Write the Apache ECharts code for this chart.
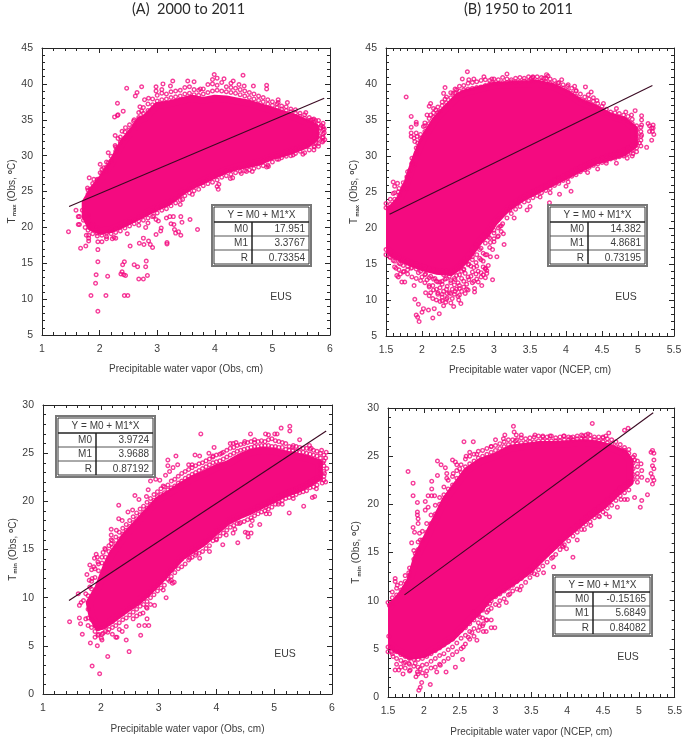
<!DOCTYPE html>
<html><head><meta charset="utf-8">
<script src="https://cdn.jsdelivr.net/npm/echarts@6/dist/echarts.min.js"></script>
<style>html,body{margin:0;padding:0;background:#fff}#c{width:685px;height:740px}</style></head>
<body><div id="c"></div>
<script>
// Saturated body of each cloud: outline as [x, y]
const bodyA=[[1.75,23.5],[1.9,25.5],[2.05,27],[2.2,28.8],[2.3,30.3],[2.4,31.8],[2.5,32.8],[2.6,33.8],[2.7,35],[2.8,35.3],[2.9,36.2],[3.0,37],[3.2,37.2],[3.4,37.6],[3.6,38],[3.8,37.7],[4.0,38],[4.2,37.9],[4.4,37.6],[4.6,37.3],[4.8,36.8],[5.0,36.3],[5.2,35.8],[5.4,35.3],[5.6,34.6],[5.75,34],[5.75,32.5],[5.6,31.5],[5.4,30.9],[5.2,30.3],[5.0,29.9],[4.8,29.2],[4.6,28.8],[4.4,28.5],[4.2,28],[4.0,27.3],[3.8,26.5],[3.6,25.8],[3.4,24.8],[3.2,23.5],[3.0,22.8],[2.8,22],[2.6,21.2],[2.4,20.4],[2.2,19.7],[2.0,19.5],[1.85,20],[1.75,21.5]];
const bodyB=[[1.5,22.2],[1.6,23],[1.7,24.2],[1.8,26.5],[1.9,29.5],[2.0,32],[2.1,33.7],[2.2,35.2],[2.3,36.3],[2.4,37.3],[2.5,38.3],[2.6,38.8],[2.8,39.3],[3.0,39.8],[3.2,39.9],[3.4,40],[3.6,40.1],[3.8,39.7],[4.0,38.8],[4.2,37.5],[4.4,36.7],[4.6,35.6],[4.8,35],[4.95,33.8],[4.95,31.5],[4.8,30.4],[4.6,29.8],[4.4,29.2],[4.2,28.2],[4.0,27.2],[3.8,26.2],[3.6,25.2],[3.4,24.2],[3.2,22.8],[3.1,21.8],[3.0,20.7],[2.9,19.2],[2.8,18.2],[2.7,16.8],[2.6,15.5],[2.5,14.5],[2.4,13.8],[2.2,14],[2.0,14.5],[1.8,15.3],[1.6,16.3],[1.5,17.2]];
const bodyC=[[1.95,11],[2.1,13.4],[2.2,14.6],[2.3,15.4],[2.4,16.3],[2.6,17.6],[2.8,18.9],[3.0,20.2],[3.2,20.9],[3.4,21.7],[3.6,22.4],[3.8,22.9],[4.0,23.5],[4.2,23.9],[4.4,24.6],[4.6,25.1],[4.8,25.3],[5.0,25.2],[5.2,24.9],[5.4,24.7],[5.6,24.4],[5.78,24],[5.78,22.5],[5.6,21.8],[5.4,21.2],[5.2,20.8],[5.0,20.2],[4.8,19.6],[4.6,19],[4.4,18.5],[4.2,17.9],[4.0,16.9],[3.8,15.8],[3.6,15],[3.4,14.2],[3.2,12.9],[3.0,11.6],[2.8,10.4],[2.6,9.4],[2.4,8.6],[2.2,7.7],[2.05,7.1],[1.95,6.9],[1.85,8],[1.8,9.5]];
const bodyD=[[1.5,9.2],[1.6,9.9],[1.7,10.8],[1.8,12],[1.9,14.5],[2.0,16],[2.1,17.5],[2.2,19],[2.3,20.5],[2.4,21.5],[2.5,22.5],[2.6,23.5],[2.8,24.5],[3.0,25],[3.2,25.8],[3.4,26],[3.6,26.2],[3.8,26.2],[4.0,26.3],[4.2,26.4],[4.4,26.3],[4.6,25.9],[4.8,25.3],[4.88,24.5],[4.88,22.3],[4.7,21.2],[4.5,19.8],[4.3,18.7],[4.1,17.5],[3.9,16.2],[3.7,14.8],[3.5,13.3],[3.3,12.2],[3.1,11.2],[2.9,10.2],[2.8,9.2],[2.6,7.7],[2.4,6.2],[2.2,5.2],[2.0,4.4],[1.8,4.2],[1.6,5],[1.5,5.7]];

// Individually readable circles around each body
const ptsA=[[1.46,19.4],[1.59,22.4],[1.63,21.5],[1.65,21.5],[1.63,20.4],[1.65,20.4],[1.67,17.1],[1.7,22.4],[1.76,17.4],[1.77,18.9],[1.81,18.9],[1.81,18.1],[1.81,18.5],[1.82,26.9],[1.85,10.5],[1.93,12.2],[1.94,13.4],[1.97,18],[1.97,16.9],[1.97,15.2],[1.97,8.3],[2.04,18],[2.11,10.5],[2.14,13.2],[2.12,18.4],[2.22,18.4],[2.25,18.6],[2.15,30.4],[2.31,37.3],[2.26,35.4],[2.31,35.6],[2.32,35.7],[2.41,36.2],[2.27,32.8],[2.27,31.4],[2.32,32.4],[2.47,39.4],[2.37,13.5],[2.4,14.8],[2.43,15.2],[2.39,13.8],[2.42,13.4],[2.45,13.3],[2.43,10.5],[2.49,10.5],[2.48,19.1],[2.53,17.4],[2.6,14.8],[2.66,14.5],[2.68,12.8],[2.76,12.8],[2.83,13.3],[2.8,14.5],[2.81,15.3],[2.69,17.8],[2.76,18.5],[2.77,17.6],[2.85,18.1],[2.88,17.6],[2.92,17.2],[2.98,19],[3.06,19.5],[3.07,19.9],[3.17,17.9],[3.17,17.7],[2.8,20],[2.94,21.6],[2.98,21.1],[3.02,20.9],[3.16,21.3],[3.22,21.5],[3.28,21.5],[3.24,20.5],[3.29,20.4],[3.3,19.7],[3.32,19.2],[3.37,19.4],[3.41,18.9],[3.41,21.5],[3.43,20.7],[3.57,21.1],[3.7,19.7],[3.4,23.2],[3.44,23.9],[3.61,24.6],[4.06,25.3],[4.07,26],[4.27,26.8],[4.31,26.9],[4.46,27.5],[4.55,27.8],[4.65,27.8],[4.9,28.4],[4.93,28.5],[5.11,29.5],[5.36,30.1],[5.53,30.2],[5.72,30.8],[3.99,41.3],[4.49,41.2],[4.04,40.8],[4.16,40.7],[4.32,40.4],[4.42,39.9],[4.51,39.7],[4.67,39.7],[4.9,39.8],[4.9,39.3],[3.27,40.4],[3.1,40],[2.98,39.6],[2.98,39],[2.73,39.6],[2.65,38.8],[2.62,38.3],[2.78,37.8],[2.85,38],[3.23,39.7],[3.53,40.4],[3.64,40.3],[3.75,39.3],[5.26,37.4],[5.1,37.8],[5.1,37.4],[5.88,34.5],[5.84,33.9],[5.9,33.2],[5.87,32.5],[5.91,32.2],[5.87,31.9],[5.76,31.8],[5.8,31.3],[5.73,31.2],[5.9,33.7],[5.85,34.2],[5.7,35],[5.75,34.9],[5.67,35],[5.58,36],[2.01,28.8],[2.12,29.1],[2.15,29],[2.07,28.3],[2.01,27.6],[1.9,26.7],[1.96,26.7],[1.79,25.5],[1.84,25.3],[2.3,31],[2.39,33.4],[2.45,33.9],[2.59,34.8],[2.7,36.8],[2.73,36.2],[1.72,21],[1.75,20],[1.74,23]];
const ptsB=[[1.78,38.2],[1.85,35.5],[1.85,34],[1.85,33.2],[1.85,32.7],[1.92,34.7],[1.92,34.4],[1.92,33.2],[1.93,32.7],[1.89,32.5],[1.9,32],[1.94,31.8],[1.92,30.2],[1.86,29],[1.89,28.8],[1.83,28],[1.79,27.1],[1.6,26.4],[1.66,26.2],[1.62,25.8],[1.67,25],[1.6,24.8],[1.74,25.7],[1.79,25.5],[1.53,22.7],[1.58,22.9],[2.1,36.9],[2.12,37.3],[2.16,36.6],[2.07,35.7],[2.12,35.7],[2.04,34.6],[2.02,34.1],[2.19,36.4],[2.25,36.2],[2.3,38.7],[2.32,39.5],[2.32,37.9],[2.43,38.7],[2.48,39.2],[2.56,40.7],[2.63,41.7],[2.65,40.6],[2.72,40.7],[2.86,41],[2.97,40.7],[3.18,41.4],[3.52,40.8],[3.54,41],[3.73,41.3],[3.75,41.1],[3.69,40.8],[3.94,40.6],[3.89,40.1],[4.03,39.9],[4.12,39.7],[4.14,39.1],[4.27,39.6],[4.35,38.9],[4.31,38.5],[4.38,38.1],[4.43,37.7],[4.52,37.3],[4.7,36.6],[4.96,36.3],[4.83,36.1],[4.91,35.7],[5.05,35.6],[5.05,35],[5.05,34.3],[5.14,34.5],[5.16,34.2],[5.21,34.3],[5.21,33.9],[5.2,33.4],[5.22,33],[5.19,32.2],[5.12,31.2],[5.16,33.4],[5.19,33.9],[5.05,32.9],[5.02,31.8],[4.98,30.6],[4.93,30.3],[4.85,29.7],[4.7,29],[4.56,29],[4.44,28.2],[4.3,27.7],[4.07,25.1],[3.91,24.7],[3.77,23.5],[3.78,24.9],[4.0,25.8],[4.03,26.4],[3.64,24.3],[3.5,23],[3.46,22.5],[3.28,21.4],[3.22,22.5],[3.14,17.7],[3.13,19.2],[3.08,20.2],[3.04,16],[2.98,12.8],[2.9,14.1],[2.92,14.8],[2.85,14.6],[2.83,12],[2.73,11.1],[2.73,11.6],[2.6,10.9],[2.54,9.5],[2.44,9.1],[2.51,10],[2.24,8.1],[2.15,7.5],[2.17,8.8],[2.09,8.6],[2.0,8.3],[1.96,7],[1.94,7.6],[1.92,7.9],[2.02,8.8],[1.9,10.1],[1.95,9.4],[1.89,12],[1.76,12.5],[1.72,12.5],[1.67,13.2],[1.65,13.4],[1.64,14.4],[2.1,10.6],[2.12,11],[2.15,10.2],[2.2,10],[2.22,10.8],[2.25,9.8],[2.28,10.4],[2.3,9.2],[2.33,9.7],[2.35,10.3],[2.38,11],[2.42,10.2],[2.45,10.8],[2.48,11.5],[2.5,10.5],[2.55,11.2],[2.58,11.8],[2.62,12.2],[2.65,12.8],[2.68,13.3],[2.72,12.6],[2.75,13.6],[2.78,14],[2.82,13.2],[2.85,13.5],[2.88,13.1],[2.9,13.7],[2.6,13.7],[2.55,13],[2.5,12.4],[2.45,12.1],[2.4,12.7],[2.35,11.9],[2.3,11.2],[2.25,11.7],[2.2,11.5],[2.15,12],[2.1,12],[2.05,11],[2.07,12.8],[2.18,13],[2.28,12.6],[2.38,13.3],[2.48,13.4],[2.58,14.3],[2.68,14.7],[2.75,15.2],[2.85,15.4],[2.9,16.3],[2.95,16],[2.98,17],[2.95,18],[3.0,18.5],[3.05,18.8],[2.85,16.5],[2.8,17],[2.75,17.5],[2.7,16],[3.1,19.5],[3.1,20.3],[3.0,19.7],[2.92,18.8],[2.0,13.2],[1.95,13.8],[1.85,14.4],[1.8,14.2],[2.05,13.6],[2.2,12.6],[2.32,12.9],[2.42,11.5],[2.52,11.6],[2.62,11.5],[2.35,10.9],[2.25,12.5],[2.12,13.3],[2.3,13.5],[2.45,13],[2.55,14],[2.65,15],[2.72,14.5],[2.8,15.8],[2.78,12.5],[2.88,14.4],[1.55,16],[1.6,15.5],[1.7,15],[1.75,14],[1.7,13.6]];
const ptsC=[[1.46,7.5],[1.61,10.4],[1.63,9.2],[1.66,9.5],[1.7,9.7],[1.63,7.9],[1.65,7.3],[1.68,6.2],[1.74,7.8],[1.78,7.1],[1.82,5.3],[1.85,2.9],[1.94,5],[1.98,2.1],[2.12,3.9],[2.26,5.9],[2.28,5.9],[2.37,6.5],[2.44,5.6],[2.49,4.4],[2.66,7.1],[2.69,6.1],[2.76,7.1],[2.83,7.1],[2.8,7.8],[2.73,8.4],[2.79,9],[2.93,9.2],[3.13,10],[3.08,10.8],[3.19,11.7],[3.24,11.5],[3.27,11.6],[3.22,11.8],[1.95,6.1],[2.01,5.8],[2.04,6.3],[2.12,6.4],[1.76,12.4],[1.81,13.4],[1.84,12.9],[1.88,13.2],[1.92,14.5],[1.94,14.2],[1.89,14.1],[1.95,13.7],[1.8,11.8],[1.85,12],[1.74,10.4],[1.81,11.1],[2.07,15.1],[2.04,14.7],[2.18,17.1],[2.18,16.5],[2.18,16],[2.18,15.6],[2.27,17],[2.31,19.6],[2.31,18.2],[2.37,18],[2.47,18.9],[2.55,19.1],[2.59,20.6],[2.66,20.2],[2.79,20.5],[2.82,21.2],[2.86,22.1],[2.95,22.3],[3.02,22.2],[3.08,21.6],[3.12,22.7],[3.16,24.3],[3.16,23.7],[3.19,23.1],[3.3,24.7],[3.25,23.5],[3.33,23.8],[3.52,23.8],[3.58,23.8],[3.63,24.8],[3.71,24.7],[3.73,27],[3.87,25],[3.96,25.6],[3.94,24.6],[4.09,25],[4.24,26],[4.29,26],[4.34,26.1],[4.49,26.2],[4.59,27],[4.66,26.4],[4.85,27],[4.9,26.9],[5.01,27],[5.05,27],[5.12,27.6],[5.27,27.8],[5.27,27.3],[5.44,26.4],[5.33,25.8],[5.61,25.8],[5.64,25.5],[5.82,25.3],[5.9,25.1],[5.89,24.5],[5.84,24],[5.91,23.4],[5.87,22.9],[5.89,22],[5.83,21.9],[5.73,21.3],[5.7,20.5],[5.66,20.4],[5.51,19.5],[5.26,18.8],[5.14,19.7],[5.07,19.7],[5.33,20.3],[4.75,17.6],[4.86,18.7],[4.92,18.7],[4.86,19.4],[4.54,16.7],[4.6,16.7],[4.5,16.8],[4.55,16.3],[4.37,15.7],[4.11,15.5],[4.29,16.7],[4.32,17.1],[3.88,14.8],[3.71,14.1],[3.54,14.1],[3.65,14.6],[4,16],[4.17,16.5],[4.4,17.7],[4.6,17.5],[4.62,18]];
const ptsD=[[1.78,23.4],[1.85,22.2],[1.85,20.9],[1.91,20.2],[1.91,19.2],[1.91,18.9],[1.92,18.5],[1.92,18],[1.85,17.6],[1.87,17.1],[1.94,17],[1.83,16],[1.95,16.3],[1.88,14.9],[1.79,12.9],[1.6,12.3],[1.6,12],[1.63,11.6],[1.76,11.8],[1.73,11.4],[1.56,9.7],[1.52,9.5],[2.19,23],[2.19,24.5],[2.11,22.4],[2.11,21.6],[2.06,20.9],[2.11,20.9],[2.15,20.9],[2.02,20.3],[2.06,19.7],[2.02,19.4],[2.24,24.1],[2.3,23.8],[2.32,23.2],[2.32,22.7],[2.4,24.6],[2.44,24.4],[2.46,24.1],[2.41,23.2],[2.56,26.5],[2.69,26.5],[2.64,25.4],[2.59,25],[2.74,25.2],[2.5,23.7],[2.94,26],[3.0,26.7],[3.13,27.2],[3.11,26.8],[3.25,28.1],[3.26,27.5],[3.29,27.2],[3.36,27.2],[3.28,26.6],[3.55,27.2],[3.66,27.1],[3.76,27.1],[3.95,27.1],[4.05,26.9],[4.22,27.1],[4.29,27.3],[4.24,26.8],[4.35,28.4],[4.5,27],[4.58,27.4],[4.54,27.1],[4.8,27.7],[4.85,27.9],[4.94,25.1],[4.94,24.6],[5.03,24.2],[5.04,23.5],[5.04,22.8],[4.98,22.3],[5.12,22.5],[5.17,25.4],[5.19,25.6],[5.21,25.3],[5.21,24.6],[5.19,24],[5.21,23.7],[5.17,23.2],[5.19,22.8],[5.21,22.5],[5.19,22.1],[5.12,21],[5.04,20.4],[5.02,19.7],[4.94,20.7],[4.84,20.5],[4.8,20.5],[4.75,20.5],[4.7,19.7],[4.59,18.7],[4.54,19],[4.45,18.7],[4.33,17.8],[4.24,17.4],[4.14,16.3],[4.08,14.5],[3.99,15.4],[3.94,15.6],[3.93,15.7],[3.8,14.5],[3.81,13.5],[3.67,12.9],[3.58,12.7],[3.5,12.9],[3.34,11.1],[3.2,10.7],[3.15,9.8],[3.05,9.5],[2.92,9.7],[2.99,7.2],[2.94,7.2],[2.94,8],[2.87,6.8],[2.83,6.8],[2.78,7.3],[2.74,5.9],[2.83,7.6],[2.87,8],[2.78,8.3],[2.69,8.8],[2.9,9],[2.67,6.7],[2.62,6.2],[2.55,5.2],[2.54,3.9],[2.44,3.1],[2.31,2.6],[2.18,2.6],[2.23,3.3],[2.09,1.3],[2.03,2.2],[1.97,1.5],[1.95,1],[1.93,0.7],[1.91,2.6],[1.89,2.1],[1.95,2.9],[1.88,3.5],[1.81,2.8],[1.71,2.4],[1.65,2.8],[1.6,2.8],[1.79,3.5],[1.72,3.5],[1.57,4.2],[1.55,4.7],[1.53,5.2],[1.51,6.3]];

// Fringe of circles along the body edges, as columns [x, y, y, ...]
const edgeA=[[1.8,24.6,25.2,21.7,20.6,19.6],[1.88,25.4,26.1,20.4,19.7,19.1],[1.96,26.6,25.9,19.9,19.2,18.8],[2.04,27.5,28.1,19.3,18.9],[2.12,28.4,27.9,19.2,18.7],[2.2,29.3,29.9,19.6,19.1],[2.28,30.6,31.2,19.8,19.3,18.5],[2.36,31.9,32.6,20.1,19.5],[2.44,32.5,33.3,20.4,19.9],[2.52,33.6,34.3,20.8,20.2],[2.6,34.2,35,21.1,20.5],[2.68,35.3,36,21.4,20.9,20.3],[2.76,35.9,36.7,21.7,21],[2.84,36.3,37.2,22,21.3,20.6],[2.92,37.1,37.9,22.3,21.5],[3.0,37.6,38.4,22.7,22],[3.08,37.8,38.7,39.2,23,22.4],[3.16,37.9,38.6,23.2,22.6],[3.24,38.1,38.9,23.7,23],[3.32,38.2,39,24,23.4],[3.4,38.3,39.1,24.4,23.8],[3.48,38.6,39.5,25,24.4],[3.56,38.7,39.6,25.4,24.8],[3.64,38.5,39.2,25.7,25.1],[3.72,38.4,39.1,26,25.3],[3.8,38.6,39.3,26.4,25.8],[3.88,38.8,39.9,26.7,26.1],[3.96,39,40,40.6,27.1,26.3],[4.04,39.1,39.8,27.3,26.6,25.7],[4.12,39,40.2,27.6,27],[4.2,38.9,39.6,27.9,27.2],[4.28,38.8,39.5,40.1,28,27.4],[4.36,38.7,39.4,28.2,27.6],[4.44,38.5,39.2,28.3,27.8],[4.52,38.3,39,28.4,27.9],[4.6,38.1,38.8,28.7,28],[4.68,37.9,38.6,28.8,28.2],[4.76,37.7,38.3,29,28.4],[4.84,37.5,38.1,29.2,28.6],[4.92,37.2,37.8,29.5,28.7],[5.0,37,37.5,29.8,29.1],[5.08,36.7,37.2,30,29.5],[5.16,36.5,36.9,30.2,29.7],[5.24,36.3,36.8,30.4,29.9],[5.32,36.1,36.5,30.6,30],[5.4,35.9,36.4,30.9,30.3],[5.48,35.5,35.9,31.1,30.6],[5.56,35.2,35.7,31.3,30.4],[5.64,34.9,35.3,31.6,30.8],[5.72,34.7,35.1,32,31.3],[5.8,34.4,34.9,33.4,32.8,32.3,31.7],[5.88,34,33.6,33,32.6,32.1]];
const edgeB=[[1.5,22.8,23.4,17,16.3],[1.56,23.3,24,16.6,15.9],[1.62,24,24.9,16.2,15.4,14.6],[1.68,24.6,25.5,15.9,15.1,14.2],[1.74,25.4,26.3,15.6,14.8,13.9],[1.8,27,27.8,15.4,14.7,13.6],[1.86,28.9,29.7,15.2,14.5,13.2],[1.92,30.4,31.1,15,14.3,13],[1.98,32.4,33,14.8,14,12.7],[2.04,33.4,34.2,14.6,13.5,12.4],[2.1,34.5,35.2,14.3,13.1,11.8],[2.16,35.4,36,14.2,12.9,11.4],[2.22,36,36.8,14.1,12.5,11],[2.28,37,37.5,14,12.2,10.8,9.9],[2.34,37.4,38.2,14,13,11.5,10.1],[2.4,38.1,38.8,13.9,12.4,10.9,9.6],[2.46,38.7,39.3,14.2,12.8,11.2],[2.52,39,39.7,14.7,13.5,12,10.7],[2.58,39.2,39.8,15.3,14.2,12.6],[2.64,39.3,40.1,15.9,14.9,13.2,11.4],[2.7,39.4,40.2,16.7,15.6,13.9,12.4],[2.76,39.5,40.3,17.6,16.3,14.7,12.9],[2.82,39.6,40.5,18.4,17.2,15.6,13.8],[2.88,39.8,40.6,19.1,17.9,16.3,14.3],[2.94,40,40.5,19.9,18.6,17.3],[3,40.1,40.7,20.6,19.3,18.1],[3.06,40.1,40.6,21.2,20,18.9],[3.12,40.2,40.9,21.9,20.6],[3.18,40.2,40.7,22.5,21.4],[3.24,40.3,40.6,23,22],[3.3,40.3,40.8,23.4,22.6],[3.36,40.3,40.9,23.9,23],[3.42,40.4,40.8,24.3,23.6],[3.48,40.4,41,24.6,23.8],[3.54,40.4,40.9,25,24.2],[3.6,40.5,41,25.3,24.5],[3.66,40.4,40.9,25.6,24.9],[3.72,40.3,40.8,25.9,25.2],[3.78,40.1,40.7,26.3,25.5],[3.84,39.9,40.5,26.7,25.9],[3.9,39.7,40.2,27,26.2],[3.96,39.4,39.9,27.2,26.6],[4.02,39.1,39.7,27.5,26.9],[4.08,38.7,39.4,27.9,27.2],[4.14,38.3,39,28.2,27.4],[4.2,37.9,38.6,28.5,27.8],[4.26,37.6,38.2,28.8,28.1],[4.32,37.4,37.9,29,28.4],[4.38,37,37.6,29.3,28.7],[4.44,36.7,37.3,29.5,28.9],[4.5,36.4,36.9,29.8,29.1],[4.56,35.9,36.5,30,29.3],[4.62,35.7,36.1,30.2,29.6],[4.68,35.5,36,30.4,29.7],[4.74,35.4,35.9,30.6,29.9],[4.8,35.2,35.7,30.8,30],[4.86,34.9,35.5,31.1,30.3],[4.92,34.5,35.1,31.5,30.8,30],[4.98,34.2,33.6,33,32.4,31.8,31.1],[5.04,34,33.4,32.7,32.2,31.4]];
const edgeC=[[1.78,10.2,8.8,7.9],[1.84,11.7,10.9,7.7,6.9],[1.9,12.1,13,7.1,6.5,5.9],[1.96,12.8,13.5,6.8,6.2],[2.02,13.6,14.2,6.9,6.2,5.6],[2.08,14.2,15,7,6.5],[2.14,14.8,15.4,7.3,6.7],[2.2,15.2,15.9,7.5,6.9,6.2],[2.26,15.6,16.3,7.8,7.1],[2.32,16.1,16.8,8.1,7.4,6.7],[2.38,16.6,17.2,8.3,7.7],[2.44,17,17.6,8.6,7.9,7],[2.5,17.4,18,8.9,8.2],[2.56,17.8,18.4,9.1,8.5,7.8],[2.62,18.2,18.8,9.4,8.8,8.1],[2.68,18.6,19.2,9.6,9.1,8.3],[2.74,18.9,19.5,9.9,9.3],[2.8,19.3,19.9,10.2,9.6,8.9],[2.86,19.7,20.3,10.6,10,9.3],[2.92,20.1,20.7,11,10.3],[2.98,20.5,21,11.3,10.7],[3.04,20.7,21.3,11.6,11],[3.1,20.9,21.5,12,11.3],[3.16,21.2,21.7,12.5,11.9],[3.22,21.4,22.1,12.9,12.2],[3.28,21.6,22.3,13.3,12.6],[3.34,21.9,22.6,13.7,13],[3.4,22.1,22.9,14,13.2],[3.46,22.4,23.1,14.3,13.5],[3.52,22.6,23.3,14.6,13.9],[3.58,22.8,23.5,14.9,14.2],[3.64,23,23.7,15.1,14.4],[3.7,23.2,23.9,15.3,14.6],[3.76,23.4,24,15.5,14.8],[3.82,23.6,24.2,15.9,15.1],[3.88,23.8,24.4,16.2,15.4],[3.94,24,24.7,16.6,15.9],[4,24.1,24.8,16.9,16.1],[4.06,24.2,24.9,17.2,16.4],[4.12,24.4,25.1,17.5,16.7],[4.18,24.6,25.3,17.8,17],[4.24,24.8,25.5,18,17.3],[4.3,25,25.6,18.1,17.5],[4.36,25.2,25.8,18.3,17.7],[4.42,25.3,25.9,18.5,17.8],[4.48,25.4,26,18.6,17.9],[4.54,25.5,26.1,18.8,18.1],[4.6,25.6,26.2,19,18.3],[4.66,25.7,26.1,19.2,18.5],[4.72,25.7,26.2,19.4,18.7],[4.78,25.8,26.3,19.6,18.9],[4.84,25.8,26.2,19.7,19],[4.9,25.8,26.4,19.9,19.2],[4.96,25.7,26.5,20.1,19.4],[5.02,25.7,26.3,20.3,19.7],[5.08,25.6,26.2,20.6,19.9],[5.14,25.6,26.1,20.7,20.1],[5.2,25.4,26,20.9,20.3],[5.26,25.3,25.7,21,20.4],[5.32,25.3,25.6,21.2,20.6],[5.38,25.2,25.7,21.3,20.7],[5.44,25.1,25.6,21.5,20.9],[5.5,25.1,25.5,21.6,21],[5.56,25,25.5,21.8,21.1],[5.62,24.9,25.4,22,21.4],[5.68,24.8,25.3,22.2,21.5],[5.74,24.7,25.2,22.4,21.7],[5.8,24.5,25,23.9,23.4,22.9,22.3],[5.86,24.8,24.2,23.7,23.1,22.6,22.2]];
const edgeD=[[1.5,9.8,5.2,4.7],[1.56,10.3,10.9,5.1,4.5],[1.62,10.6,11.3,4.7,4,3.4],[1.68,11.1,11.8,4.4,3.8,3.1],[1.74,12,12.6,4.2,3.6,3],[1.8,12.6,13.4,4,3.4,2.7],[1.86,14.3,15.2,3.9,3.2],[1.92,15.3,16.1,3.9,3.1,2.4],[1.98,16.3,17.2,4,3.3,2.5],[2.04,17.1,18,4.2,3.4,2.7],[2.1,18,18.9,4.5,3.7,3],[2.16,19,19.9,4.8,4,3.1],[2.22,20,20.7,5.1,4.3,3.4],[2.28,21,21.8,5.4,4.5,3.7],[2.34,21.6,22.5,5.7,4.9,4],[2.4,22,22.9,6,5.2,4.4],[2.46,22.7,23.5,6.5,5.6,4.7],[2.52,23.3,24.1,6.9,6.1,5],[2.58,23.9,24.7,7.2,6.4,5.5],[2.64,24.2,25,7.6,6.8,6],[2.7,24.5,25.2,8,7.1,6.3],[2.76,24.8,25.5,8.5,7.7,6.9],[2.82,25,25.6,9,8.2,7.4],[2.88,25.2,25.8,9.6,8.8,8],[2.94,25.4,26,10,9.2],[3,25.6,26.1,10.4,9.6],[3.06,25.8,26.3,10.7,10],[3.12,26,26.5,11,10.2],[3.18,26.2,26.7,11.3,10.6],[3.24,26.3,26.7,11.6,11],[3.3,26.3,26.7,12,11.2],[3.36,26.4,26.9,12.3,11.5],[3.42,26.4,26.8,12.7,11.9],[3.48,26.5,26.9,13.2,12.4],[3.54,26.5,27,13.6,12.8],[3.6,26.6,27.1,14,13.2],[3.66,26.6,27,14.4,13.6],[3.72,26.6,27,14.8,14],[3.78,26.6,27.1,15.2,14.4],[3.84,26.6,26.9,15.6,14.8],[3.9,26.6,27,16.1,15.3],[3.96,26.7,27.1,16.6,15.8],[4.02,26.7,27,17,16.2],[4.08,26.7,27,17.4,16.7],[4.14,26.8,27.1,17.8,17.1],[4.2,26.8,27.2,18.2,17.4],[4.26,26.8,27.2,18.7,17.9],[4.32,26.8,27.2,19,18.2],[4.38,26.7,27,19.4,18.6],[4.44,26.6,27,19.7,18.8],[4.5,26.5,26.9,20.1,19.2],[4.56,26.4,26.8,20.5,19.6],[4.62,26.3,26.7,20.9,19.9],[4.68,26,26.5,21.3,20.4],[4.74,25.8,26.2,21.7,20.9],[4.8,25.6,25.9,22,21.2],[4.86,25.3,25.7,22.3,21.5],[4.92,24.9,24.3,23.7,23.1,22.6],[4.98,24.5,23.9,23.2,22.8]];

// Regression line end points [x, y]
const lineA=[[1.47,22.9],[5.9,38]];
const lineB=[[1.55,21.9],[5.2,39.8]];
const lineC=[[1.45,9.7],[5.9,27.3]];
const lineD=[[1.73,10.6],[5.2,29.5]];

// Axis scales and labels
const xTitles=['Precipitable water vapor (Obs, cm)','Precipitable water vapor (NCEP, cm)','Precipitable water vapor (Obs, cm)','Precipitable water vapor (NCEP, cm)'];
const yNames=['max','max','min','min'];
const xRanges=[[1,6,1],[1.5,5.5,0.5],[1,6,1],[1.5,5.5,0.5]];
const yRanges=[[5,45,5],[5,45,5],[0,30,5],[0,30,5]];
const panelTitles=['(A)  2000 to 2011','(B) 1950 to 2011'];
const tableHead='Y = M0 + M1*X';
const tableNames=['M0','M1','R'];
const valuesA=['17.951','3.3767','0.73354'];
const valuesB=['14.382','4.8681','0.73195'];
const valuesC=['3.9724','3.9688','0.87192'];
const valuesD=['-0.15165','5.6849','0.84082'];
const regionLabel='EUS';

const PINK='#f40a80', INK='#262626', LBL='#3c3c3c', FONT='"Liberation Sans",Arial,sans-serif';
const boxes=[{l:42,t:48,w:288,h:287},{l:386,t:48,w:288,h:288},{l:43,t:405,w:289,h:289},{l:388,t:408,w:288,h:289}];
const tables=[{x:212,y:205,v:valuesA},{x:548,y:205,v:valuesB},{x:56,y:416,v:valuesC},{x:553,y:575,v:valuesD}];
const eus=[{x:281,y:297},{x:626,y:297},{x:285,y:654},{x:628,y:657}];
const bodies=[bodyA,bodyB,bodyC,bodyD], pts=[ptsA,ptsB,ptsC,ptsD], edges=[edgeA,edgeB,edgeC,edgeD], lines=[lineA,lineB,lineC,lineD];
const nameGaps=[29,29,30,30];

const grid=[],xAxis=[],yAxis=[],series=[],graphic=[];
function axisCommon(r,g,show){
  return {gridIndex:g,type:'value',min:r[0],max:r[1],interval:r[2],splitLine:{show:false},
    axisLine:{show:true,onZero:false,lineStyle:{color:INK,width:1}},
    axisTick:{show:true,inside:true,length:5,lineStyle:{color:INK,width:1}},
    minorTick:{show:true,splitNumber:5,length:3,lineStyle:{color:INK,width:1}},
    axisLabel:{show:show,color:LBL,fontFamily:FONT,fontSize:10.5,margin:9,showMinLabel:true,showMaxLabel:true,hideOverlap:false,formatter:v=>String(v)}};
}
boxes.forEach((b,i)=>{
  grid.push({left:b.l,top:b.t,width:b.w,height:b.h,containLabel:false});
  xAxis.push(Object.assign(axisCommon(xRanges[i],i,true),{position:'bottom',name:xTitles[i],nameLocation:'middle',nameGap:nameGaps[i],nameTextStyle:{color:LBL,fontFamily:FONT,fontSize:10}}));
  yAxis.push(Object.assign(axisCommon(yRanges[i],i,true),{position:'left',name:'{t|T}{s|'+yNames[i]+'}{t| (Obs, }{u|o}{t|C)}',nameLocation:'middle',nameGap:i%2?26:24,
    nameTextStyle:{rich:{t:{color:LBL,fontFamily:FONT,fontSize:10},s:{color:LBL,fontFamily:FONT,fontSize:6,fontWeight:'bold',verticalAlign:'bottom',padding:[4,0,0,1]},u:{color:LBL,fontFamily:FONT,fontSize:7,fontWeight:'bold',verticalAlign:'top',padding:[0,0,4,0]}}}}));
  series.push({type:'custom',xAxisIndex:i,yAxisIndex:i,silent:true,z:2,data:[0],clip:true,
    renderItem:(p,api)=>({type:'polygon',shape:{points:bodies[i].map(q=>api.coord(q))},style:{fill:PINK,stroke:PINK,lineWidth:7,lineJoin:'round'}})});
  const edgePts=edges[i].flatMap(c=>c.slice(1).map(y=>[c[0],y]));
  series.push({type:'scatter',xAxisIndex:i,yAxisIndex:i,silent:true,z:3,large:false,data:pts[i].concat(edgePts),symbol:'circle',symbolSize:3.6,
    itemStyle:{color:'rgba(255,255,255,0)',borderColor:PINK,borderWidth:1.4}});
  series.push({type:'line',xAxisIndex:i,yAxisIndex:i,silent:true,z:4,data:lines[i],symbol:'none',lineStyle:{color:'#3a0a22',width:1.1}});
});
boxes.forEach((b,i)=>{
  xAxis.push(Object.assign(axisCommon(xRanges[i],i,false),{position:'top'}));
  yAxis.push(Object.assign(axisCommon(yRanges[i],i,false),{position:'right'}));
});
panelTitles.forEach((t,i)=>graphic.push({type:'text',left:[132,464][i],top:2,z:10,style:{text:t,fill:'#2a2a2a',font:'14.5px Lato,sans-serif'}}));
eus.forEach((e,i)=>graphic.push({type:'text',x:e.x,y:e.y,z:10,style:{text:regionLabel,fill:LBL,font:'10.5px '+FONT,textAlign:'center',textVerticalAlign:'middle'}}));
tables.forEach(t=>{
  const W=99,H=61,split=40;
  const add=o=>{o.z=20;graphic.push(o);};
  add({type:'rect',shape:{x:t.x,y:t.y,width:W,height:H},style:{fill:'#fff',stroke:'#777',lineWidth:2}});
  add({type:'rect',shape:{x:t.x+2,y:t.y+2,width:W-4,height:H-4},style:{fill:'none',stroke:'#333',lineWidth:1}});
  add({type:'line',shape:{x1:t.x+2,y1:t.y+17,x2:t.x+W-2,y2:t.y+17},style:{stroke:'#222',lineWidth:1.5}});
  add({type:'line',shape:{x1:t.x+2,y1:t.y+31,x2:t.x+W-2,y2:t.y+31},style:{stroke:'#555',lineWidth:1}});
  add({type:'line',shape:{x1:t.x+2,y1:t.y+45,x2:t.x+W-2,y2:t.y+45},style:{stroke:'#555',lineWidth:1}});
  add({type:'line',shape:{x1:t.x+split,y1:t.y+17,x2:t.x+split,y2:t.y+H-2},style:{stroke:'#222',lineWidth:1.5}});
  add({type:'text',x:t.x+W/2,y:t.y+10,style:{text:tableHead,fill:LBL,font:'10px '+FONT,textAlign:'center',textVerticalAlign:'middle'}});
  tableNames.forEach((n,k)=>{
    const cy=t.y+24.5+k*14.2;
    add({type:'text',x:t.x+split-4,y:cy,style:{text:n,fill:LBL,font:'10px '+FONT,textAlign:'right',textVerticalAlign:'middle'}});
    add({type:'text',x:t.x+W-6,y:cy,style:{text:t.v[k],fill:LBL,font:'10px '+FONT,textAlign:'right',textVerticalAlign:'middle'}});
  });
});
const chart=echarts.init(document.getElementById('c'),null,{renderer:'canvas'});
chart.setOption({animation:false,backgroundColor:'#fff',grid,xAxis,yAxis,series,graphic});
</script></body></html>
